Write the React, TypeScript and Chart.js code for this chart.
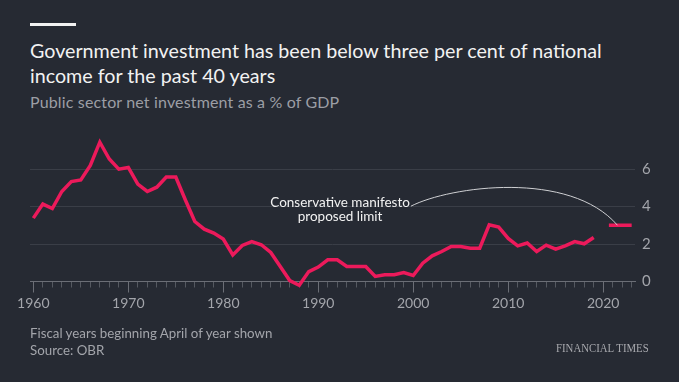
import React, { useEffect, useRef } from 'react';
import { Chart, registerables } from 'chart.js';

Chart.register(...registerables);

// ---- Data ----
const years: number[] = [
  1960, 1961, 1962, 1963, 1964, 1965, 1966, 1967, 1968, 1969,
  1970, 1971, 1972, 1973, 1974, 1975, 1976, 1977, 1978, 1979,
  1980, 1981, 1982, 1983, 1984, 1985, 1986, 1987, 1988, 1989,
  1990, 1991, 1992, 1993, 1994, 1995, 1996, 1997, 1998, 1999,
  2000, 2001, 2002, 2003, 2004, 2005, 2006, 2007, 2008, 2009,
  2010, 2011, 2012, 2013, 2014, 2015, 2016, 2017, 2018, 2019,
];
const investment: number[] = [
  3.38, 4.13, 3.89, 4.8, 5.33, 5.42, 6.19, 7.43, 6.53, 5.99,
  6.08, 5.19, 4.8, 5.03, 5.57, 5.57, 4.36, 3.2, 2.79, 2.58,
  2.26, 1.42, 1.92, 2.13, 1.96, 1.55, 0.8, 0.05, -0.2, 0.53,
  0.77, 1.16, 1.16, 0.8, 0.8, 0.8, 0.27, 0.36, 0.36, 0.48,
  0.32, 0.98, 1.37, 1.6, 1.87, 1.87, 1.78, 1.78, 3.02, 2.9,
  2.3, 1.9, 2.05, 1.6, 1.94, 1.73, 1.9, 2.13, 2.01, 2.35,
];
const limitYears: number[] = [2020.6, 2023];
const limitValues: number[] = [3, 3];

const decadeLabels: number[] = [1960, 1970, 1980, 1990, 2000, 2010, 2020];
const yTickValues: number[] = [0, 2, 4, 6];
const firstTickYear = 1960;
const lastTickYear = 2023;

const annotationLines: string[] = ['Conservative manifesto', 'proposed limit'];

// ---- Styles ----
const BG = '#262a33';
const LINE = '#ec1a5b';
const GRID = '#3a3e47';
const AXIS = '#6b6e76';
const TICK_TEXT = '#a3a5ab';
const FONT = 'Lato, "Open Sans", sans-serif';

const annotationPlugin = {
  id: 'ftAnnotation',
  afterDatasetsDraw(chart: any) {
    const { ctx, scales } = chart;
    const xs = scales.x;
    const ys = scales.y;
    ctx.save();
    // longer decade ticks
    ctx.strokeStyle = AXIS;
    ctx.lineWidth = 1;
    const axisY = ys.getPixelForValue(0);
    decadeLabels.forEach((d) => {
      const px = Math.round(xs.getPixelForValue(d)) + 0.5;
      ctx.beginPath();
      ctx.moveTo(px, axisY);
      ctx.lineTo(px, axisY + 11);
      ctx.stroke();
    });

    // annotation text
    const cx = xs.getPixelForValue(1992.3);
    const by = ys.getPixelForValue(3.99);
    ctx.font = '13.5px ' + FONT;
    ctx.fillStyle = '#f2f2f2';
    ctx.textAlign = 'center';
    ctx.textBaseline = 'alphabetic';
    ctx.fillText(annotationLines[0], cx, by);
    ctx.fillText(annotationLines[1], cx, by + 14.5);
    const w1 = ctx.measureText(annotationLines[0]).width;

    // connector arc
    const sx = cx + w1 / 2 + 1;
    const sy = by - 0.5;
    const c1x = xs.getPixelForValue(2003.9);
    const c1y = ys.getPixelForValue(5.09);
    const c2x = xs.getPixelForValue(2016.5);
    const c2y = ys.getPixelForValue(5.95);
    const ex = xs.getPixelForValue(2021.5);
    const ey = ys.getPixelForValue(3);
    ctx.strokeStyle = '#cfd0d3';
    ctx.lineWidth = 1;
    ctx.beginPath();
    ctx.moveTo(sx, sy);
    ctx.bezierCurveTo(c1x, c1y, c2x, c2y, ex, ey);
    ctx.stroke();
    ctx.restore();
  },
};

export default function App() {
  const canvasRef = useRef<HTMLCanvasElement | null>(null);

  useEffect(() => {
    if (!canvasRef.current) return;
    const chart = new Chart(canvasRef.current, {
      type: 'line',
      data: {
        datasets: [
          {
            label: 'Public sector net investment',
            data: years.map((y, i) => ({ x: y, y: investment[i] })),
            borderColor: LINE,
            borderWidth: 3.5,
            pointRadius: 0,
            fill: false,
            tension: 0,
            clip: false as any,
          },
          {
            label: 'Proposed limit',
            data: limitYears.map((y, i) => ({ x: y, y: limitValues[i] })),
            borderColor: LINE,
            borderWidth: 3.5,
            pointRadius: 0,
            fill: false,
            clip: false as any,
          },
        ],
      },
      options: {
        animation: false,
        responsive: false,
        maintainAspectRatio: false,
        events: [],
        layout: { padding: { left: 30, right: 0, top: 131.5, bottom: 60.5 } },
        plugins: {
          legend: { display: false },
          tooltip: { enabled: false },
          title: { display: false },
        },
        scales: {
          x: {
            type: 'linear',
            min: 1959.65,
            max: 2023.35,
            afterBuildTicks: (scale: any) => {
              const t: { value: number }[] = [];
              for (let v = firstTickYear; v <= lastTickYear; v++) t.push({ value: v });
              scale.ticks = t;
            },
            afterFit: (scale: any) => {
              scale.height = 40;
            },
            ticks: {
              autoSkip: false,
              maxRotation: 0,
              padding: 8,
              color: TICK_TEXT,
              font: { family: FONT, size: 14 },
              callback: (v: any) => (decadeLabels.includes(Number(v)) ? String(v) : ''),
            },
            grid: {
              drawOnChartArea: false,
              drawTicks: true,
              tickLength: 6,
              tickColor: '#555961',
            },
            border: { display: true, color: AXIS, width: 1 },
          },
          y: {
            type: 'linear',
            position: 'right',
            min: 0,
            max: 8,
            afterBuildTicks: (scale: any) => {
              scale.ticks = yTickValues.map((v) => ({ value: v }));
            },
            afterFit: (scale: any) => {
              scale.width = 44;
            },
            ticks: {
              padding: 7,
              color: TICK_TEXT,
              font: { family: FONT, size: 15 },
            },
            grid: {
              drawOnChartArea: true,
              drawTicks: false,
              color: (c: any) => (c.tick && c.tick.value === 0 ? AXIS : GRID),
              lineWidth: 1,
            },
            border: { display: false },
          },
        },
      },
      plugins: [annotationPlugin],
    } as any);
    return () => chart.destroy();
  }, []);

  return (
    <div
      style={{
        position: 'fixed',
        left: 0,
        top: 0,
        width: 679,
        height: 382,
        background: BG,
        overflow: 'hidden',
        fontFamily: FONT,
      }}
    >
      <div style={{ position: 'absolute', left: 30, top: 23, width: 46, height: 3, background: '#f2f2f2' }} />
      <div
        style={{
          position: 'absolute',
          left: 30,
          top: 37.7,
          width: 640,
          fontSize: 19.7,
          lineHeight: '25px',
          color: '#f2f2f2',
        }}
      >
        Government investment has been below three per cent of national
        <br />
        income for the past 40 years
      </div>
      <div
        style={{
          position: 'absolute',
          left: 30,
          top: 91.5,
          fontSize: 16,
          letterSpacing: '0.15px',
          lineHeight: '19px',
          color: '#9c9ea5',
          whiteSpace: 'nowrap',
        }}
      >
        Public sector net investment as a % of GDP
      </div>
      <canvas
        ref={canvasRef}
        width={679}
        height={382}
        style={{ position: 'absolute', left: 0, top: 0, width: 679, height: 382 }}
      />
      <div
        style={{
          position: 'absolute',
          left: 30,
          top: 325,
          fontSize: 13.3,
          lineHeight: '17px',
          color: '#a3a5ab',
          whiteSpace: 'nowrap',
        }}
      >
        Fiscal years beginning April of year shown
        <br />
        Source: OBR
      </div>
      <div
        style={{
          position: 'absolute',
          left: 556,
          top: 341,
          fontSize: 12,
          lineHeight: '14px',
          color: '#a8a9ae',
          fontFamily: '"Liberation Serif", "DejaVu Serif", serif',
          whiteSpace: 'nowrap',
          transform: 'scaleX(0.9)',
          transformOrigin: 'left top',
        }}
      >
        FINANCIAL TIMES
      </div>
    </div>
  );
}
